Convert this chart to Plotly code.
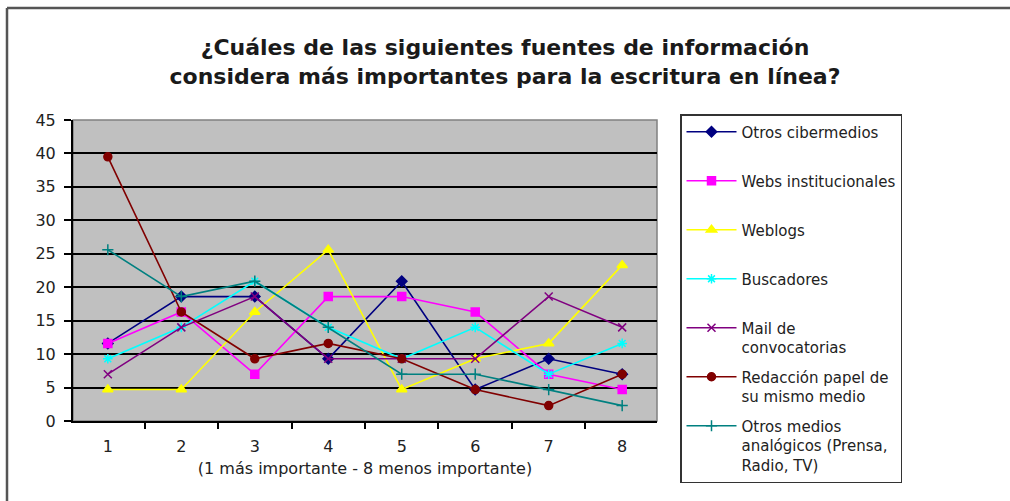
import plotly.graph_objects as go

# ---- data ----
categories = ["1", "2", "3", "4", "5", "6", "7", "8"]
series_names = [
    "Otros cibermedios",
    "Webs institucionales",
    "Weblogs",
    "Buscadores",
    "Mail de<br>convocatorias",
    "Redacción papel de<br>su mismo medio",
    "Otros medios<br>analógicos (Prensa,<br>Radio, TV)",
]
otros_cibermedios = [11.6, 18.6, 18.6, 9.3, 20.9, 4.7, 9.3, 7.0]
webs_institucionales = [11.6, 16.3, 7.0, 18.6, 18.6, 16.3, 7.0, 4.7]
weblogs = [4.7, 4.7, 16.3, 25.6, 4.7, 9.3, 11.6, 23.3]
buscadores = [9.3, 14.0, 20.9, 14.0, 9.3, 14.0, 7.0, 11.6]
mail_convocatorias = [7.0, 14.0, 18.6, 9.3, 9.3, 9.3, 18.6, 14.0]
redaccion_papel = [39.5, 16.3, 9.3, 11.6, 9.3, 4.7, 2.3, 7.0]
otros_medios_analogicos = [25.6, 18.6, 20.9, 14.0, 7.0, 7.0, 4.7, 2.3]
y_ticks = [0, 5, 10, 15, 20, 25, 30, 35, 40, 45]

title_text = ("¿Cuáles de las siguientes fuentes de información<br>"
              "considera más importantes para la escritura en línea?")
x_title = "(1 más importante - 8 menos importante)"

series_values = [otros_cibermedios, webs_institucionales, weblogs, buscadores,
                 mail_convocatorias, redaccion_papel, otros_medios_analogicos]
colors = ["#000080", "#FF00FF", "#FFFF00", "#00FFFF", "#800080", "#800000", "#008080"]
symbols = ["diamond", "square", "triangle-up", "asterisk-open", "x-thin-open",
           "circle", "cross-thin-open"]
sizes = [8, 8, 9, 8, 8, 8, 8]

# ---- layout geometry (pixels) ----
W, H = 1010, 501
L, R, T, B = 73, 353, 120, 80
PW = W - L - R
PH = H - T - B


def px(x):
    return (x - L) / PW


def py(y):
    return (H - B - y) / PH


fig = go.Figure()
for i, (name, vals) in enumerate(zip(series_names, series_values)):
    nm = name if "<br>" in name else name + "<br> "
    fig.add_trace(go.Scatter(
        x=categories, y=vals, name=nm, mode="lines+markers",
        legendgroup=str(i),
        line=dict(color=colors[i], width=1.6),
        marker=dict(symbol=symbols[i], size=sizes[i], color=colors[i],
                    line=dict(color=colors[i], width=1.5)),
    ))

fig.update_layout(
    width=W, height=H,
    margin=dict(l=L, r=R, t=T, b=B),
    paper_bgcolor="white",
    plot_bgcolor="#C0C0C0",
    font=dict(family="DejaVu Sans", color="#222222"),
    title=dict(text=title_text, x=0.5, xref="container", xanchor="center",
               y=1 - 55 / H, yref="container", yanchor="top",
               font=dict(family="DejaVu Sans", size=22, weight="bold", color="#1a1a1a")),
    showlegend=True,
    legend=dict(x=px(680), y=py(114), xanchor="left", yanchor="top",
                bgcolor="white", bordercolor="#333333", borderwidth=1.5,
                font=dict(family="DejaVu Sans", size=15, color="#222222"),
                tracegroupgap=7, itemwidth=50, valign="top",
                traceorder="grouped", maxheight=420),
    xaxis=dict(type="category", tickson="boundaries", ticks="outside",
               ticklen=6, tickwidth=2, tickcolor="black",
               showline=True, linecolor="black", linewidth=2,
               showgrid=False, zeroline=False, ticklabelstandoff=10,
               tickfont=dict(family="DejaVu Sans", size=16, color="#222222"),
               title=dict(text=x_title, standoff=8,
                          font=dict(family="DejaVu Sans", size=16, color="#222222"))),
    yaxis=dict(range=[0, 45], tickvals=y_ticks, ticks="outside",
               ticklen=7, tickwidth=2, tickcolor="black",
               showline=True, linecolor="black", linewidth=2,
               showgrid=True, gridcolor="black", gridwidth=2,
               zeroline=False, ticklabelstandoff=5,
               tickfont=dict(family="DejaVu Sans", size=16, color="#222222")),
    shapes=[
        # plot area border (gray top/right)
        dict(type="rect", xref="paper", yref="paper", x0=0, x1=1, y0=0, y1=1,
             line=dict(color="#808080", width=1.5), layer="below"),
        # outer frame: top and left lines
        dict(type="line", xref="paper", yref="paper",
             x0=px(7), x1=px(W), y0=py(8), y1=py(8),
             line=dict(color="#555555", width=2.5)),
        dict(type="line", xref="paper", yref="paper",
             x0=px(7), x1=px(7), y0=py(8), y1=py(H),
             line=dict(color="#555555", width=2.5)),
    ],
)

fig.write_html("out.html")
